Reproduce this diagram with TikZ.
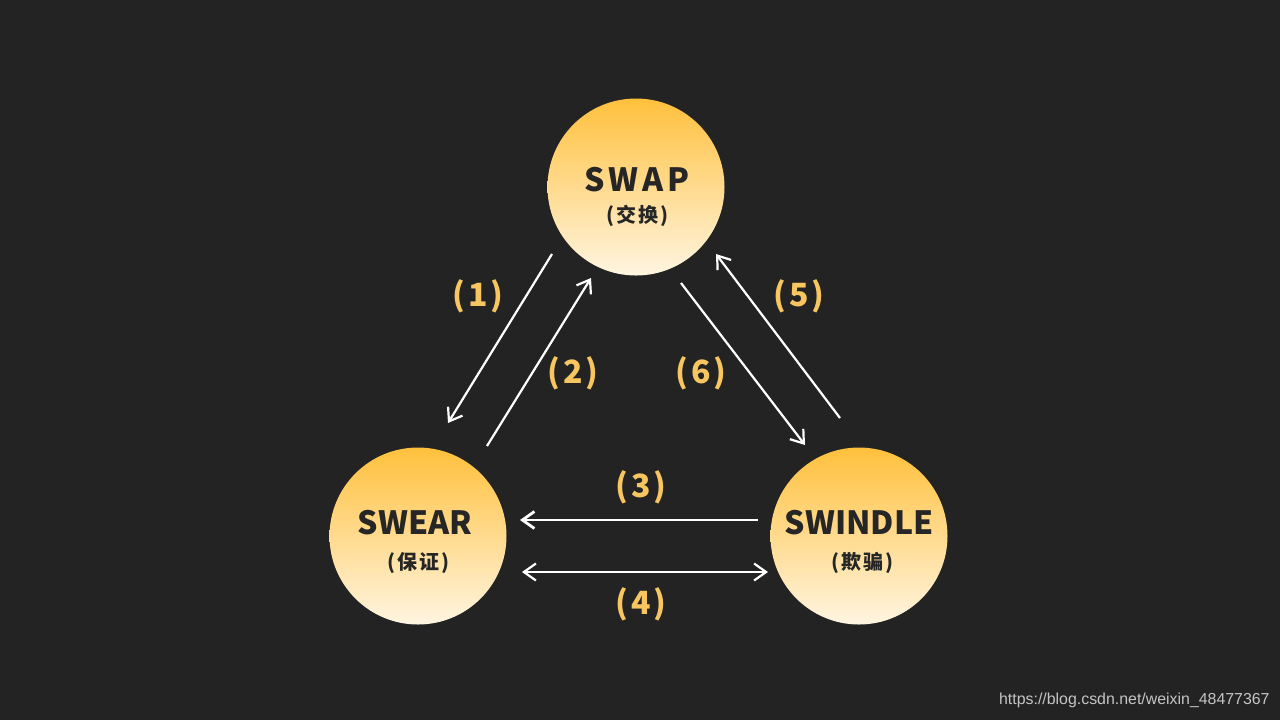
\documentclass[tikz,border=0pt]{standalone}
\usepackage{fontspec}
\setmainfont{Noto Sans CJK SC}
\setsansfont{Liberation Sans}
\usetikzlibrary{arrows.meta}
\definecolor{bg}{HTML}{232323}
\definecolor{sunTop}{HTML}{FFC03C}
\definecolor{sunBot}{HTML}{FFF5E1}
\definecolor{numGold}{HTML}{F7C660}
\definecolor{inkDark}{HTML}{262626}
\definecolor{wmGray}{HTML}{C4C4C4}

\begin{document}
\begin{tikzpicture}[
  x=0.5pt, y=-0.5pt,
  circ/.style={circle, minimum size=88.5pt, inner sep=0pt, top color=sunTop, bottom color=sunBot, draw=none},
  ttl/.style={font=\bfseries\fontsize{16}{18}\selectfont, text=inkDark, inner sep=0pt},
  sub/.style={font=\bfseries\fontsize{10}{12}\selectfont\addfontfeature{LetterSpace=10}, text=inkDark, inner sep=0pt},
  num/.style={font=\bfseries\fontsize{16}{18}\selectfont\addfontfeature{LetterSpace=8}, text=numGold, inner sep=0pt},
  arr/.style={-{Straight Barb[length=6pt, width=8.5pt]}, line width=1.1pt, white}
]
\fill[bg] (0,0) rectangle (1280,720);
% the three circles
\node[circ] (swap) at (636,187) {};
\node[circ] (swear) at (418,536) {};
\node[circ] (swindle) at (859,536) {};
\node[ttl] (swapT) at (637,180) {\addfontfeature{LetterSpace=12}SWAP};
\node[sub] (swapS) at (637,216) {(交换)};
\node[ttl] (swearT) at (415,523) {SWEAR};
\node[sub] (swearS) at (418,563) {(保证)};
\node[ttl] (swindleT) at (859,523) {SWINDLE};
\node[sub] (swindleS) at (862,563) {(欺骗)};
% step numbers
\node[num] (n1) at (478,296) {(1)};
\node[num] (n2) at (573,373) {(2)};
\node[num] (n3) at (641,487) {(3)};
\node[num] (n4) at (641,604) {(4)};
\node[num] (n5) at (799,296) {(5)};
\node[num] (n6) at (701,373) {(6)};
% arrows
\draw[arr] ([shift={(-84,67)}]swap.center) -- ([shift={(30,-113)}]swear.center);
\draw[arr] ([shift={(69,-90)}]swear.center) -- ([shift={(-45,91)}]swap.center);
\draw[arr, line width=1.4pt] ([shift={(-101,-16)}]swindle.center) -- ([shift={(102,-16)}]swear.center);
\draw[arr, {Straight Barb[length=6pt, width=8.5pt]}-{Straight Barb[length=6pt, width=8.5pt]}] ([shift={(104,36)}]swear.center) -- ([shift={(-91,36)}]swindle.center);
\draw[arr] ([shift={(-19,-118)}]swindle.center) -- ([shift={(80,67)}]swap.center);
\draw[arr] ([shift={(45,96)}]swap.center) -- ([shift={(-54,-91)}]swindle.center);
\node[font=\sffamily\fontsize{7.95}{10}\selectfont, text=wmGray, anchor=east, inner sep=0pt] (wm) at (1270,700) {https://blog.csdn.net/weixin\_48477367};
\end{tikzpicture}
\end{document}
